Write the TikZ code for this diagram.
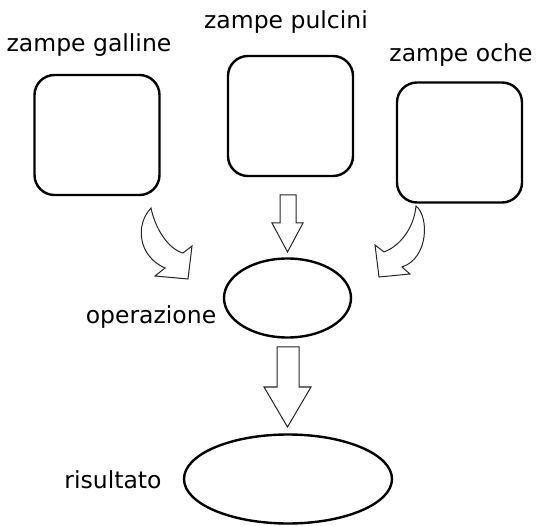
\documentclass[tikz,border=0pt]{standalone}
\usepackage{fontspec}
\setmainfont{DejaVu Sans}
\usetikzlibrary{shapes.geometric}
\begin{document}
\begin{tikzpicture}[x=1pt,y=-1pt,
  box/.style={draw=black,line width=2.4pt,rounded corners=20pt,minimum width=125pt,minimum height=120pt,inner sep=0pt},
  oval/.style={draw=black,line width=2.4pt,ellipse,inner sep=0pt},
  lbl/.style={anchor=base,inner sep=0pt,font=\fontsize{23.5}{27}\selectfont},
  blockarrow/.style={draw=black!85,line width=1pt,fill=white,line join=miter}]
\useasboundingbox[fill=white] (0,0) rectangle (538,526);
% boxes
\node[box] (galline) at (97,135) {};
\node[box] (pulcini) at (290.5,116) {};
\node[box] (oche) at (459.5,142.5) {};
% labels
\node[lbl] (tg) at (89,52) {zampe galline};
\node[lbl] (tp) at (286,29) {zampe pulcini};
\node[lbl] (to) at (461,62) {zampe oche};
% ellipses
\node[oval,minimum width=127pt,minimum height=79pt] (op) at (287.5,298) {};
\node[oval,minimum width=208pt,minimum height=89pt] (ris) at (288,479) {};
\node[lbl] (top) at (151,324) {operazione};
\node[lbl] (tris) at (113,488) {risultato};
% straight block arrows
\draw[blockarrow] (280,195) -- (296,195) -- (296,223) -- (303,223) -- (287.5,252) -- (272,223) -- (280,223) -- cycle;
\draw[blockarrow] (277,347) -- (299,347) -- (299,387) -- (311,387) -- (287.5,427) -- (264,387) -- (277,387) -- cycle;
% curved block arrows
\draw[blockarrow] (151,208) .. controls (135,225) and (138,256) .. (165,268)
  -- (155,276) -- (188,279) -- (192,246) -- (183,253)
  .. controls (168,249) and (155,228) .. cycle;
\draw[blockarrow] (416,206) .. controls (429,216) and (429,258) .. (402,267)
  -- (410,274) -- (379,277) -- (375,245) -- (384,252)
  .. controls (400,246) and (414,228) .. cycle;
\end{tikzpicture}
\end{document}
